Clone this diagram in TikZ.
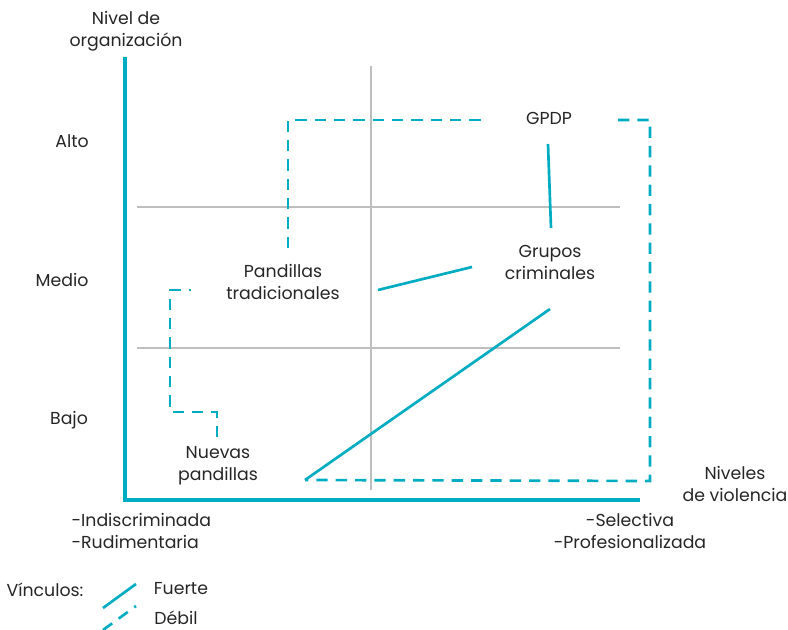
\documentclass[tikz,border=0pt]{standalone}
\usepackage{fontspec}
\setmainfont{Poppins}
\usetikzlibrary{positioning}
\definecolor{teal1}{RGB}{0,172,193}
\definecolor{grid1}{RGB}{190,190,190}

\begin{document}
\begin{tikzpicture}[x=0.75pt, y=-0.75pt,
    every node/.style={font=\fontsize{13}{16.5}\selectfont, text=black!85, align=center, inner sep=1pt},
    fuerte/.style={teal1, line width=2pt},
    debil/.style={teal1, line width=2pt, dash pattern=on 8.5pt off 6pt},
    rejilla/.style={grid1, line width=1.6pt}]
    \useasboundingbox (0,0) rectangle (788,630);

    % rejilla gris
    \draw[rejilla] (371,66) -- (371,490);
    \foreach \y in {207,348}
        \draw[rejilla] (137,\y) -- (620,\y);

    % ejes
    \coordinate (o) at (125,500);
    \coordinate (ytop) at (125,57);
    \coordinate (xend) at (640,500);
    \draw[teal1, line width=2.5pt] (ytop) -- (o) -- (xend);

    % etiquetas de los ejes
    \node (ejey) at (126,31) {Nivel de\\organización};
    \node (ejex) at (735,484) {Niveles\\de violencia};
    \node (alto) at (72,141) {Alto};
    \node (medio) at (62,280) {Medio};
    \node (bajo) at (69,420) {Bajo};
    \node[align=left, anchor=west] (izq) at (70,531) {-Indiscriminada\\-Rudimentaria};
    \node (der) at (630,531) {-Selectiva\\-Profesionalizada};

    % grupos
    \node (gpdp) at (549,118) {GPDP};
    \node (grupos) at (550,262) {Grupos\\criminales};
    \node (trad) at (283,282) {Pandillas\\tradicionales};
    \node (nuevas) at (218,466) {Nuevas\\pandillas};

    % vinculos fuertes
    \coordinate (g1) at (548,144);
    \coordinate (g2) at (551,228);
    \coordinate (g3) at (472,267);
    \coordinate (g4) at (550,309);
    \coordinate (t1) at (378,290);
    \coordinate (n1) at (305,480);
    \draw[fuerte] (g1) -- (g2);
    \draw[fuerte] (t1) -- (g3);
    \draw[fuerte] (n1) -- (g4);

    % vinculos debiles
    \draw[debil] (288,248) -- (288,120) -- (483,120);
    \draw[debil] (618,120) -- (650,120) -- (650,481) -- (n1);
    \draw[debil] (217,437) -- (217,412) -- (170,412) -- (170,290) -- (191,290);

    % leyenda
    \node (vinc) at (45,590) {Vínculos:};
    \node (fuerte) at (181,589) {Fuerte};
    \node (debil) at (176,618) {Débil};
    \draw[fuerte] (103,608) -- (136,584);
    \draw[debil] (103,630) -- (136,606);
\end{tikzpicture}
\end{document}
